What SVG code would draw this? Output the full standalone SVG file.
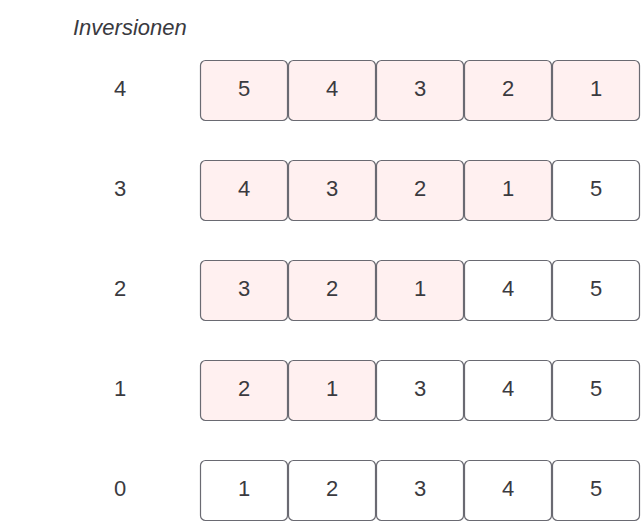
<svg xmlns="http://www.w3.org/2000/svg" width="641" height="522" viewBox="0 0 641 522">
<style>
text{font-family:"Liberation Sans",Arial,sans-serif;font-size:22px;fill:#3a3a3f;text-anchor:middle}
.c rect{stroke:#6a6a72;stroke-width:1.2;fill:#ffffff}
.c.p rect{fill:#fff0f0}
.t{font-style:italic;text-anchor:start}
</style>
<rect width="641" height="522" fill="#ffffff"/>
<text class="t" x="73" y="35">Inversionen</text>
<g id="labels">
<text x="120" y="96">4</text>
<text x="120" y="196">3</text>
<text x="120" y="296">2</text>
<text x="120" y="396">1</text>
<text x="120" y="496">0</text>
</g>
<g id="row4">
<g id="r4c1" class="c p"><rect x="200.5" y="60.5" width="87" height="60" rx="5"/><text x="244" y="96">5</text></g>
<g id="r4c2" class="c p"><rect x="288.5" y="60.5" width="87" height="60" rx="5"/><text x="332" y="96">4</text></g>
<g id="r4c3" class="c p"><rect x="376.5" y="60.5" width="87" height="60" rx="5"/><text x="420" y="96">3</text></g>
<g id="r4c4" class="c p"><rect x="464.5" y="60.5" width="87" height="60" rx="5"/><text x="508" y="96">2</text></g>
<g id="r4c5" class="c p"><rect x="552.5" y="60.5" width="87" height="60" rx="5"/><text x="596" y="96">1</text></g>
</g>
<g id="row3">
<g id="r3c1" class="c p"><rect x="200.5" y="160.5" width="87" height="60" rx="5"/><text x="244" y="196">4</text></g>
<g id="r3c2" class="c p"><rect x="288.5" y="160.5" width="87" height="60" rx="5"/><text x="332" y="196">3</text></g>
<g id="r3c3" class="c p"><rect x="376.5" y="160.5" width="87" height="60" rx="5"/><text x="420" y="196">2</text></g>
<g id="r3c4" class="c p"><rect x="464.5" y="160.5" width="87" height="60" rx="5"/><text x="508" y="196">1</text></g>
<g id="r3c5" class="c"><rect x="552.5" y="160.5" width="87" height="60" rx="5"/><text x="596" y="196">5</text></g>
</g>
<g id="row2">
<g id="r2c1" class="c p"><rect x="200.5" y="260.5" width="87" height="60" rx="5"/><text x="244" y="296">3</text></g>
<g id="r2c2" class="c p"><rect x="288.5" y="260.5" width="87" height="60" rx="5"/><text x="332" y="296">2</text></g>
<g id="r2c3" class="c p"><rect x="376.5" y="260.5" width="87" height="60" rx="5"/><text x="420" y="296">1</text></g>
<g id="r2c4" class="c"><rect x="464.5" y="260.5" width="87" height="60" rx="5"/><text x="508" y="296">4</text></g>
<g id="r2c5" class="c"><rect x="552.5" y="260.5" width="87" height="60" rx="5"/><text x="596" y="296">5</text></g>
</g>
<g id="row1">
<g id="r1c1" class="c p"><rect x="200.5" y="360.5" width="87" height="60" rx="5"/><text x="244" y="396">2</text></g>
<g id="r1c2" class="c p"><rect x="288.5" y="360.5" width="87" height="60" rx="5"/><text x="332" y="396">1</text></g>
<g id="r1c3" class="c"><rect x="376.5" y="360.5" width="87" height="60" rx="5"/><text x="420" y="396">3</text></g>
<g id="r1c4" class="c"><rect x="464.5" y="360.5" width="87" height="60" rx="5"/><text x="508" y="396">4</text></g>
<g id="r1c5" class="c"><rect x="552.5" y="360.5" width="87" height="60" rx="5"/><text x="596" y="396">5</text></g>
</g>
<g id="row0">
<g id="r0c1" class="c"><rect x="200.5" y="460.5" width="87" height="60" rx="5"/><text x="244" y="496">1</text></g>
<g id="r0c2" class="c"><rect x="288.5" y="460.5" width="87" height="60" rx="5"/><text x="332" y="496">2</text></g>
<g id="r0c3" class="c"><rect x="376.5" y="460.5" width="87" height="60" rx="5"/><text x="420" y="496">3</text></g>
<g id="r0c4" class="c"><rect x="464.5" y="460.5" width="87" height="60" rx="5"/><text x="508" y="496">4</text></g>
<g id="r0c5" class="c"><rect x="552.5" y="460.5" width="87" height="60" rx="5"/><text x="596" y="496">5</text></g>
</g>
<g id="connectors"></g>
</svg>
